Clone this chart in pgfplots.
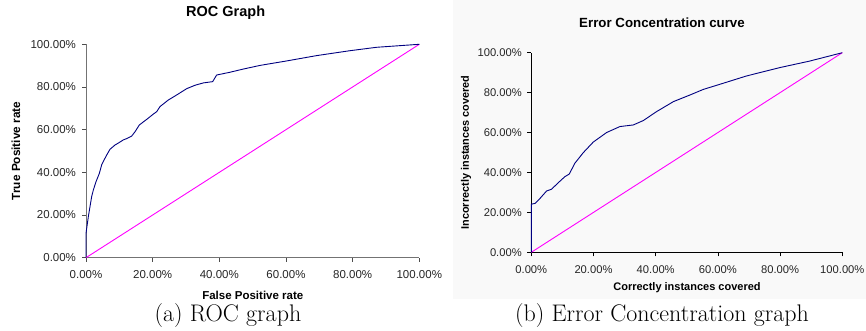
\documentclass[border=0pt]{standalone}
\usepackage{fontspec}
\usepackage{pgfplots}
\pgfplotsset{compat=1.18}
\newfontfamily\arial{Liberation Sans}
\definecolor{navyc}{RGB}{0,0,128}
\definecolor{magc}{RGB}{255,0,255}
\definecolor{bgc}{RGB}{249,249,249}
\pgfplotstableread{
x y
0 0
0 11.4
0.7 19.2
1.2 23.9
1.7 28.6
2.2 31.7
3.0 35.6
4.0 39.5
4.7 43.5
5.5 46
6.2 48.1
7.2 50.8
8.7 52.8
10 54
11.2 55.2
12.2 55.8
13.7 57.0
14.7 59
16 62.2
18.2 64.8
20.2 67.3
21.2 68.4
22.2 70.8
24.7 73.9
27.2 76.25
30.2 79.2
32.7 80.8
35.2 81.9
38 82.5
39.2 85.6
43.2 86.9
47.2 88.4
52.2 90.1
60.2 92.2
69.2 94.7
79.2 97
87.2 98.6
100 100
}\roc
\pgfplotstableread{
x y
0 0
0 24.1
1.2 24.5
2.8 27.0
4.9 30.7
6.5 31.6
8.7 34.9
10.8 37.9
12.2 39.2
14.0 44.6
16.7 49.9
19.9 55.2
24.2 60.0
28.5 63.0
32.8 63.8
36 66
40.3 70.5
45.7 75.5
51 78.8
55.3 81.6
60.7 84.2
69.1 88.3
79.8 92.5
89.5 95.8
100 100
}\err
\pgfplotsset{
  common/.style={
    scale only axis,
    xmin=0,xmax=100,ymin=0,ymax=100,
    axis x line*=bottom, axis y line*=left,
    axis line style={-},
    tick align=outside,
    major tick length=4pt,
    xtick={0,20,40,60,80,100},
    ytick={0,20,40,60,80,100},
    xticklabels={0.00\%,20.00\%,40.00\%,60.00\%,80.00\%,100.00\%},
    yticklabels={0.00\%,20.00\%,40.00\%,60.00\%,80.00\%,100.00\%},
    clip=false,
  }
}
\begin{document}
\begin{tikzpicture}[x=1pt,y=1pt]
\useasboundingbox (0,0) rectangle (866,331);
\fill[bgc] (453,32) rectangle (866,331);
% left chart
\begin{axis}[common,
  at={(86pt,73.3pt)}, anchor=south west,
  width=333.3pt, height=213.4pt,
  axis line style={-,draw=black!55, line width=1pt},
  tick style={black!70, line width=0.8pt},
  ticklabel style={font=\arial\fontsize{11.5}{13}\selectfont, text=black!85},
  xticklabel style={yshift=-5pt},
  yticklabel style={xshift=-2.5pt},
]
\addplot[magc, line width=0.9pt] coordinates {(0,0) (100,100)};
\addplot[navyc, line width=0.9pt] table[x=x,y=y] {\roc};
\end{axis}
\node[font=\arial\bfseries\fontsize{14.5}{16}\selectfont] at (225.7,318) {ROC Graph};
\node[font=\arial\bfseries\fontsize{11.5}{13}\selectfont] at (252.8,35.3) {False Positive rate};
\node[font=\arial\bfseries\fontsize{11.8}{13}\selectfont, rotate=90] at (16,180) {True Positive rate};
% right chart
\begin{axis}[common,
  at={(531.3pt,78.7pt)}, anchor=south west,
  width=311pt, height=199.6pt,
  axis line style={-,draw=black, line width=0.8pt},
  tick style={black, line width=0.8pt},
  ticklabel style={font=\arial\fontsize{11.2}{13}\selectfont, text=black!85},
  xticklabel style={yshift=-5.5pt},
  yticklabel style={xshift=-2pt},
]
\addplot[magc, line width=0.9pt] coordinates {(0,0) (100,100)};
\addplot[navyc, line width=0.9pt] table[x=x,y=y] {\err};
\end{axis}
\node[font=\arial\bfseries\fontsize{13.3}{15}\selectfont] at (662,308) {Error Concentration curve};
\node[font=\arial\bfseries\fontsize{11}{13}\selectfont] at (687,43.7) {Correctly instances covered};
\node[font=\arial\bfseries\fontsize{10.9}{13}\selectfont, rotate=90] at (466,178.5) {Incorrectly instances covered};
% captions
\node[font=\fontsize{24}{28}\selectfont, anchor=base] at (228,9) {(a) ROC graph};
\node[font=\fontsize{24}{28}\selectfont, anchor=base] at (662,9) {(b) Error Concentration graph};
\end{tikzpicture}
\end{document}
